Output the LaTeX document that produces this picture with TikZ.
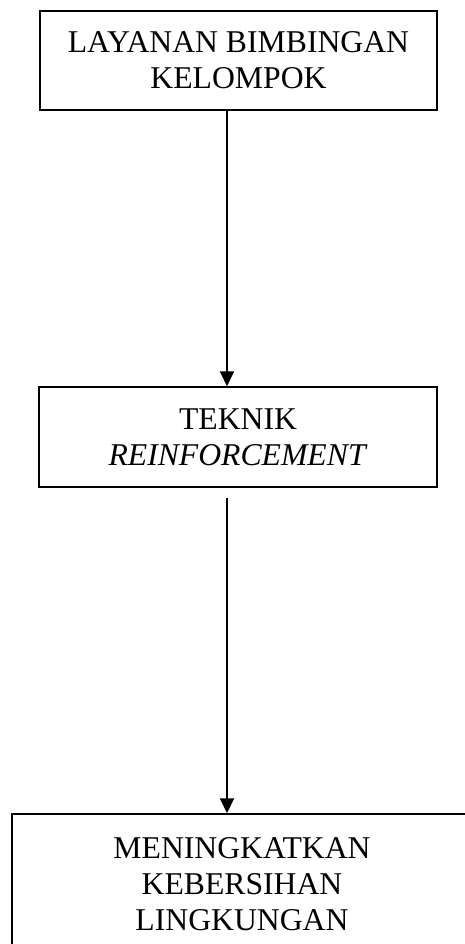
\documentclass[tikz,border=0pt]{standalone}
\usepackage{fontspec}
\setmainfont{Liberation Serif}
\usetikzlibrary{arrows.meta}
\begin{document}
\begin{tikzpicture}[x=1pt,y=-1pt,
  box/.style={draw=black,line width=1.5pt,align=center,inner sep=0pt,
    font=\fontsize{31.7pt}{36pt}\selectfont},
  conn/.style={line width=2pt,-{Triangle[width=14pt,length=15pt]}}]
\useasboundingbox (0,0) rectangle (465,944);
\clip (0,0) rectangle (465,944);
\node[box,minimum width=397pt,minimum height=99pt] (b1) at (238.5,60.5)
  {LAYANAN BIMBINGAN\\KELOMPOK};
\node[box,minimum width=398pt,minimum height=100pt] (b2) at (238,437)
  {TEKNIK\\\textit{REINFORCEMENT}};
\node[box,minimum width=460pt,minimum height=140pt] (b3) at (242,884)
  {MENINGKATKAN\\KEBERSIHAN\\LINGKUNGAN};
\coordinate (ax) at (227,0);
\coordinate (c2) at (227,498);
\draw[conn] (b1.south -| ax) -- (b2.north -| ax);
\draw[conn] (c2) -- (b3.north -| c2);
\end{tikzpicture}
\end{document}
